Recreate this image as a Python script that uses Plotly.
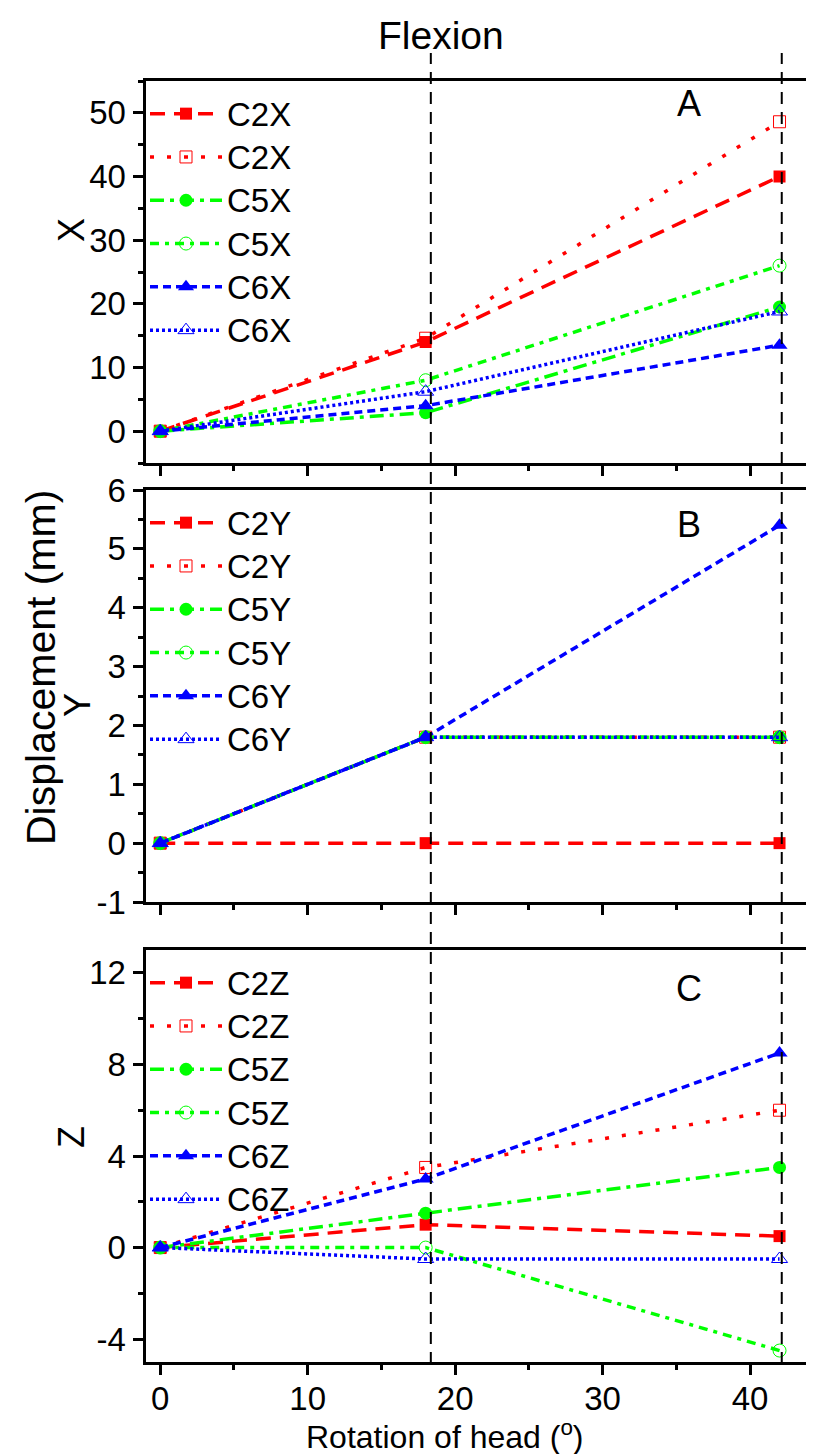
import plotly.graph_objects as go

# ---- data ----
rotation = [0, 18, 42]

series_names_x = ["C2X", "C2X", "C5X", "C5X", "C6X", "C6X"]
series_names_y = ["C2Y", "C2Y", "C5Y", "C5Y", "C6Y", "C6Y"]
series_names_z = ["C2Z", "C2Z", "C5Z", "C5Z", "C6Z", "C6Z"]

x_c2_f = [0, 14.0, 40.0]
x_c2_o = [0, 14.6, 48.6]
x_c5_f = [0, 2.9, 19.5]
x_c5_o = [0, 8.0, 26.0]
x_c6_f = [0, 4.0, 13.5]
x_c6_o = [0, 6.2, 18.8]

y_c2_f = [0, 0, 0]
y_c2_o = [0, 1.8, 1.8]
y_c5_f = [0, 1.8, 1.8]
y_c5_o = [0, 1.8, 1.8]
y_c6_f = [0, 1.8, 5.4]
y_c6_o = [0, 1.8, 1.8]

z_c2_f = [0, 1.0, 0.5]
z_c2_o = [0, 3.5, 6.0]
z_c5_f = [0, 1.5, 3.5]
z_c5_o = [0, 0.0, -4.5]
z_c6_f = [0, 3.0, 8.5]
z_c6_o = [0, -0.5, -0.5]

ref_lines = [18.35, 42.15]

x_ticks = [0, 10, 20, 30, 40]
yA_ticks = [0, 10, 20, 30, 40, 50]
yB_ticks = [-1, 0, 1, 2, 3, 4, 5, 6]
yB_text = ["-1", "0", "1", "2", "3", "4", "5", "6"]
yC_ticks = [-4, 0, 4, 8, 12]
yC_text = ["-4", "0", "4", "8", "12"]

# ---- styles ----
W, H = 814, 1454
FONT = "Liberation Sans, Arial, sans-serif"
RED, GREEN, BLUE = "#FF0000", "#00FF00", "#0000FF"

styles = [
    dict(color=RED, dash="15px,9px", symbol="square", open=False, size=12),
    dict(color=RED, dash="4px,13px", symbol="square-open", open=True, size=12),
    dict(color=GREEN, dash="14px,6px,4px,6px", symbol="circle", open=False, size=13),
    dict(color=GREEN, dash="9px,6px,4px,6px", symbol="circle-open", open=True, size=13),
    dict(color=BLUE, dash="8px,5px", symbol="triangle-up", open=False, size=14),
    dict(color=BLUE, dash="3px,3px", symbol="triangle-up-open", open=True, size=14),
]


def py(p):
    return 1 - p / H


def px(p):
    return p / W


panels = [
    dict(vals=[x_c2_f, x_c2_o, x_c5_f, x_c5_o, x_c6_f, x_c6_o], names=series_names_x,
         xa="x", ya="y", leg="legend", top=73, bot=455, rng=[-5, 55],
         ticks=yA_ticks, text=[str(t) for t in yA_ticks], minor=5),
    dict(vals=[y_c2_f, y_c2_o, y_c5_f, y_c5_o, y_c6_f, y_c6_o], names=series_names_y,
         xa="x2", ya="y2", leg="legend2", top=482, bot=894, rng=[-1, 6],
         ticks=yB_ticks, text=yB_text, minor=0.5),
    dict(vals=[z_c2_f, z_c2_o, z_c5_f, z_c5_o, z_c6_f, z_c6_o], names=series_names_z,
         xa="x3", ya="y3", leg="legend3", top=942, bot=1354, rng=[-5, 13],
         ticks=yC_ticks, text=yC_text, minor=2),
]

fig = go.Figure()

for p in panels:
    for vals, name, st in zip(p["vals"], p["names"], styles):
        marker = dict(symbol=st["symbol"], size=st["size"], color=st["color"])
        if st["open"]:
            marker["line"] = dict(color=st["color"], width=1)
        fig.add_trace(go.Scatter(
            x=rotation, y=vals, name=f"<span style='font-size:33px'>{name}</span>",
            mode="lines+markers",
            line=dict(color=st["color"], width=3.5, dash=st["dash"]),
            marker=marker, xaxis=p["xa"], yaxis=p["ya"], legend=p["leg"],
        ))

x_left = 137.5
x_dom = [px(x_left), 1.0]
x_range = [-1, 44.88]

axis_common = dict(showgrid=False, zeroline=False, linecolor="black", linewidth=3,
                   tickcolor="black", tickwidth=3, ticklen=10, automargin=False,
                   tickfont=dict(family=FONT, size=33, color="black"))

layout = dict(
    width=W, height=H, margin=dict(l=0, r=0, t=0, b=0, pad=0, autoexpand=False),
    paper_bgcolor="white", plot_bgcolor="white",
    font=dict(family=FONT, color="black"),
    showlegend=True,
)

for i, p in enumerate(panels):
    sfx = "" if i == 0 else str(i + 1)
    last = i == 2
    layout["xaxis" + sfx] = dict(
        axis_common, domain=x_dom, range=x_range, anchor=p["ya"],
        showline=True, mirror=True, ticks="outside",
        tickvals=x_ticks, showticklabels=last, ticklabelstandoff=-5,
        minor=dict(ticks="outside", ticklen=5, tickwidth=3, tickcolor="black", dtick=5, tick0=0),
    )
    layout["yaxis" + sfx] = dict(
        axis_common, domain=[py(p["bot"]), py(p["top"])], range=p["rng"], anchor=p["xa"],
        showline=True, mirror=False, ticks="outside",
        tickvals=p["ticks"], ticktext=p["text"],
        minor=dict(ticks="outside", ticklen=5, tickwidth=3, tickcolor="black",
                   dtick=p["minor"], tick0=0),
    )
    # right-side inward ticks (the axis line itself lies just outside the picture)
    layout["yaxis" + str(i + 4)] = dict(
        showgrid=False, zeroline=False, showline=False, overlaying=p["ya"],
        anchor=p["xa"], side="right", range=p["rng"], ticks="inside", ticklen=10,
        tickwidth=3, tickcolor="black", tickvals=p["ticks"], showticklabels=False,
        automargin=False,
        minor=dict(ticks="inside", ticklen=5, tickwidth=3, tickcolor="black",
                   dtick=p["minor"], tick0=0),
    )
    layout[p["leg"]] = dict(
        x=px(137), xanchor="left", y=py(p["top"] + 6), yanchor="top",
        bgcolor="rgba(0,0,0,0)", borderwidth=0, itemwidth=72,
        font=dict(family=FONT, size=31, color="black"), tracegroupgap=0,
        itemclick=False,
    )

fig.update_layout(**layout)

# vertical reference lines spanning all panels
for xv in ref_lines:
    fig.add_shape(type="line", xref="x", yref="paper", x0=xv, x1=xv,
                  y0=py(1356), y1=py(45),
                  line=dict(color="black", width=2, dash="12px,8px"))


def ann(text, x, y, size, angle=0):
    return dict(text=text, x=px(x), y=py(y), xref="paper", yref="paper",
                xanchor="center", yanchor="middle", textangle=angle,
                showarrow=False, font=dict(family=FONT, size=size, color="black"))


annotations = [
    ann("Flexion", 433, 28, 39),
    ann("Rotation of head (<sup>o</sup>)", 437, 1427, 32),
    ann("X", 64, 222, 36, -90),
    ann("Y", 70, 697, 36, -90),
    ann("Displacement (mm)", 33, 660, 41, -90),
    ann("Z", 63, 1129, 36, -90),
    ann("A", 681, 96, 36),
    ann("B", 681, 516, 36),
    ann("C", 681, 980, 36),
]
fig.update_layout(annotations=annotations)

fig.write_html("out.html")
